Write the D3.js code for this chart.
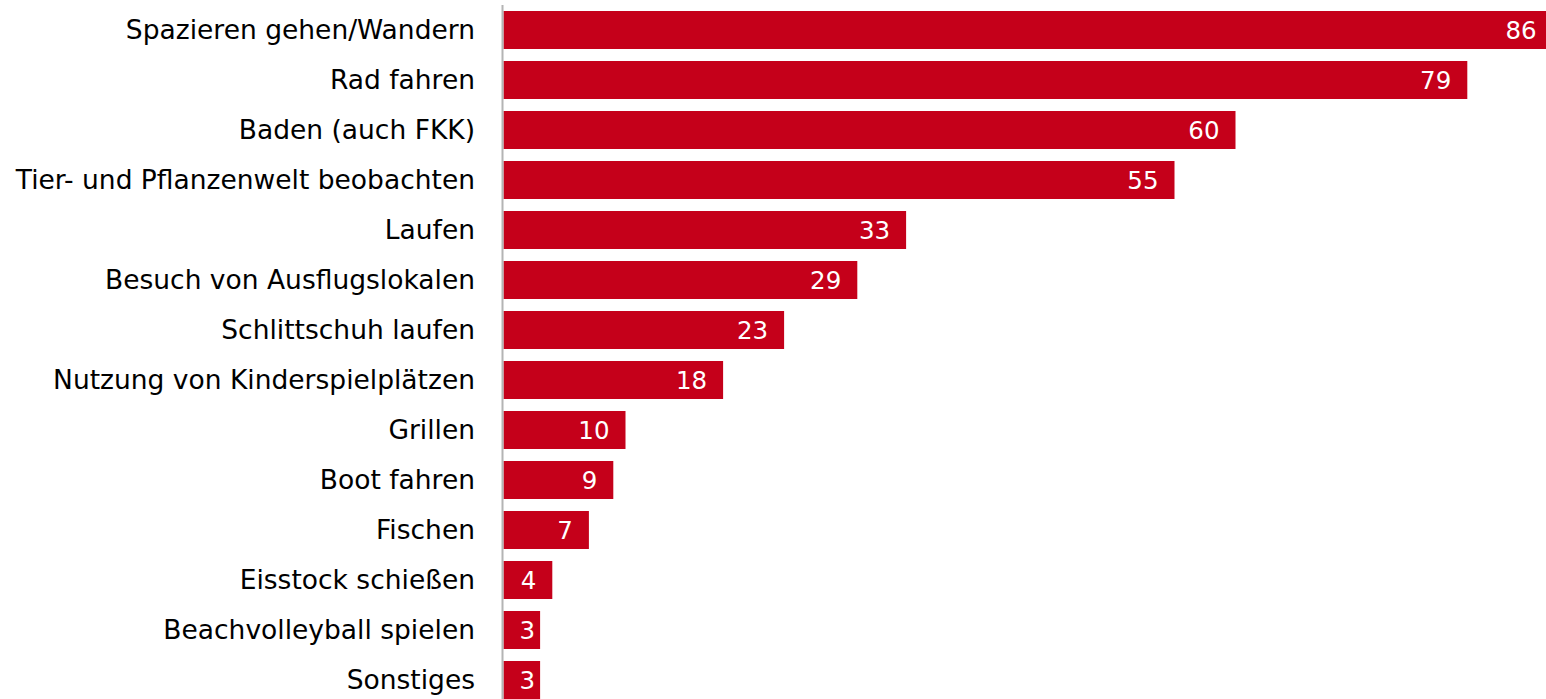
<!DOCTYPE html>
<html><head><meta charset="utf-8">
<script src="https://cdn.jsdelivr.net/npm/d3@7"></script>
<style>body{margin:0;background:#fff;overflow:hidden}svg{display:block}</style>
</head><body>
<script>
const categories = ["Spazieren gehen/Wandern","Rad fahren","Baden (auch FKK)","Tier- und Pflanzenwelt beobachten","Laufen","Besuch von Ausflugslokalen","Schlittschuh laufen","Nutzung von Kinderspielplätzen","Grillen","Boot fahren","Fischen","Eisstock schießen","Beachvolleyball spielen","Sonstiges"];
const values = [86,79,60,55,33,29,23,18,10,9,7,4,3,3];

const W = 1546, H = 699;
const svg = d3.select("body").append("svg").attr("width", W).attr("height", H);
const x0 = 503.5;
const x = d3.scaleLinear().domain([0, 86]).range([x0, x0 + 86 * 12.2]);
const y = d3.scaleBand().domain(categories).range([5, 705]).paddingInner(0.24).paddingOuter(0.12);
const font = "Verdana, 'DejaVu Sans', sans-serif";
const color = "#c5001a";

svg.selectAll("rect.bar").data(values).join("rect")
  .attr("class","bar")
  .attr("x", x(0))
  .attr("y", (d,i) => y(categories[i]))
  .attr("width", d => x(d) - x(0))
  .attr("height", y.bandwidth())
  .attr("fill", color);

svg.append("line").attr("x1", 502.5).attr("x2", 502.5).attr("y1", 5).attr("y2", H)
  .attr("stroke", "#b4b4b4").attr("stroke-width", 2);

svg.selectAll("text.cat").data(categories).join("text")
  .attr("class","cat")
  .attr("x", 475)
  .attr("y", d => y(d) + y.bandwidth()/2)
  .attr("dy", "0.34em")
  .attr("text-anchor", "end")
  .attr("font-family", font)
  .attr("font-size", 26.5)
  .attr("fill", "#000")
  .text(d => d);

svg.selectAll("text.val").data(values).join("text")
  .attr("class","val")
  .attr("y", (d,i) => y(categories[i]) + y.bandwidth()/2)
  .attr("dy", "0.36em")
  .attr("font-family", font)
  .attr("font-size", 24.5)
  .attr("fill", "#fff")
  .text(d => d)
  .each(function(d){
    const w = this.getComputedTextLength();
    const end = Math.max(x(d) - 16, x(0) + 16 + w);
    d3.select(this).attr("x", end).attr("text-anchor", "end");
  });
</script>
</body></html>
